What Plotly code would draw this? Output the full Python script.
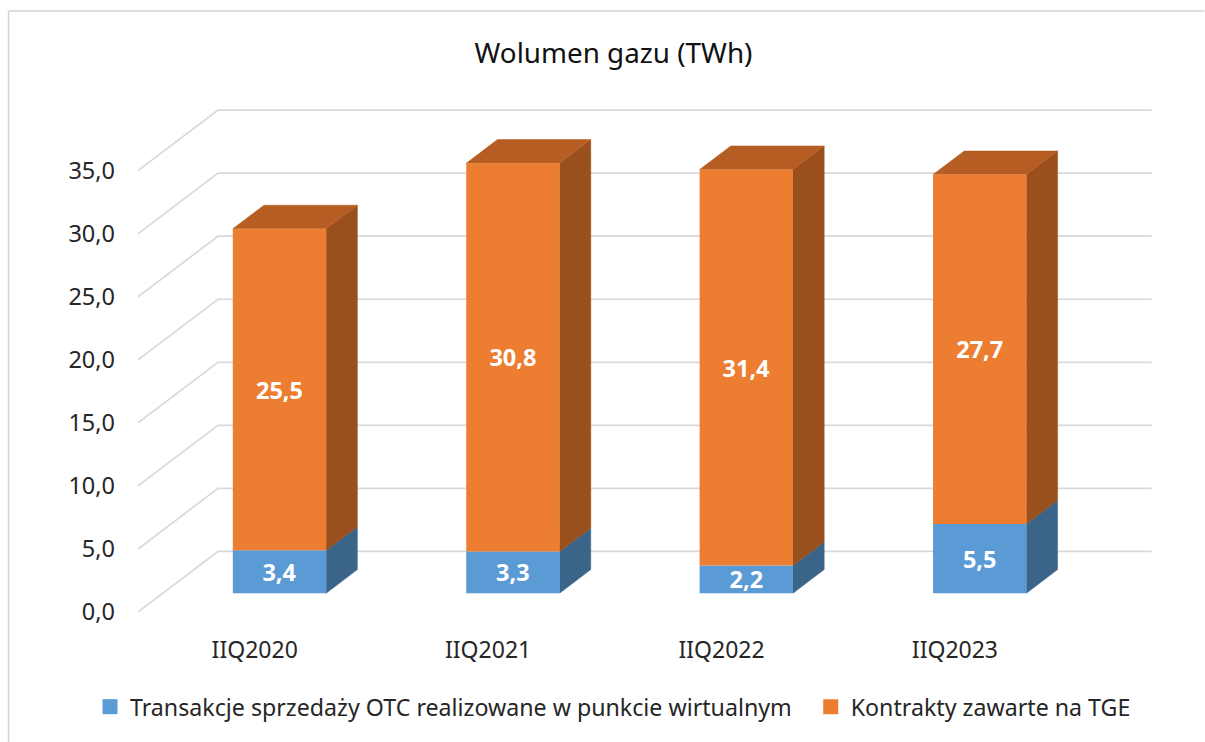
import plotly.graph_objects as go

# ---- data ----
categories = ["IIQ2020", "IIQ2021", "IIQ2022", "IIQ2023"]
otc_values = [3.4, 3.3, 2.2, 5.5]
tge_values = [25.5, 30.8, 31.4, 27.7]
otc_name = "Transakcje sprzedaży OTC realizowane w punkcie wirtualnym"
tge_name = "Kontrakty zawarte na TGE"
title_text = "Wolumen gazu (TWh)"
y_ticks = [0, 5, 10, 15, 20, 25, 30, 35]

# ---- pixel frame of the plot ----
W, H = 1205, 742
PX_PER_CAT, PX_PER_VAL = 233.5, 12.6
LEFT, ZERO_Y = 138, 612
X_RANGE = (-0.5, 3.9)
Y_RANGE = (0, 41)
plot_w = (X_RANGE[1] - X_RANGE[0]) * PX_PER_CAT
plot_h = (Y_RANGE[1] - Y_RANGE[0]) * PX_PER_VAL

# ---- oblique projection: depth 0 = front wall, depth 1 = back wall ----
BACK_DX = 80 / PX_PER_CAT
BACK_DY = 60.5 / PX_PER_VAL
NEAR, FAR = 0.31, 0.70
HALF_W = 0.2


def proj(cat, val, depth):
    return cat + depth * BACK_DX, val + depth * BACK_DY


def face(points):
    xs, ys = zip(*[proj(*p) for p in points])
    return list(xs) + [xs[0]], list(ys) + [ys[0]]


def polygon(points, color, z=1):
    xs, ys = face(points)
    return go.Scatter(x=xs, y=ys, mode="lines", fill="toself", fillcolor=color,
                      line=dict(color=color, width=0.5), showlegend=False,
                      hoverinfo="skip", cliponaxis=False, zorder=z)


BLUE, BLUE_SIDE = "#5B9BD5", "#3A6589"
ORANGE, ORANGE_SIDE, ORANGE_TOP = "#ED7D31", "#99501C", "#B55D22"
GRID = "#D9D9D9"
TEXT = "#262626"
FONT = "Noto Sans"

fig = go.Figure()

# walls: gridlines running from the front plane to the back wall
for v in y_ticks:
    x0, y0 = proj(-0.5, v, 0)
    x1, y1 = proj(-0.5, v, 1)
    x2, y2 = proj(len(categories) - 0.5, v, 1)
    fig.add_trace(go.Scatter(x=[x0, x1, x2], y=[y0, y1, y2], mode="lines",
                             line=dict(color=GRID, width=1.7), showlegend=False,
                             hoverinfo="skip", cliponaxis=False, zorder=0))

# side and top faces
for i, (a, b) in enumerate(zip(otc_values, tge_values)):
    r = i + HALF_W
    l = i - HALF_W
    fig.add_trace(polygon([(r, 0, NEAR), (r, 0, FAR), (r, a, FAR), (r, a, NEAR)], BLUE_SIDE))
    fig.add_trace(polygon([(r, a, NEAR), (r, a, FAR), (r, a + b, FAR), (r, a + b, NEAR)], ORANGE_SIDE))
    fig.add_trace(polygon([(l, a + b, NEAR), (r, a + b, NEAR), (r, a + b, FAR), (l, a + b, FAR)], ORANGE_TOP))

# front faces
front_x = [proj(i, 0, NEAR)[0] for i in range(len(categories))]
front_base = proj(0, 0, NEAR)[1]
label_font = dict(family=FONT, size=23.5, color="white", weight="bold")


def label(v):
    return f"{v:.1f}".replace(".", ",")


fig.add_trace(go.Bar(x=front_x, y=otc_values, base=[front_base] * len(otc_values),
                     width=2 * HALF_W, showlegend=False, marker=dict(color=BLUE, line_width=0),
                     text=[label(v) for v in otc_values], textposition="inside",
                     insidetextanchor="middle", textangle=0, textfont=label_font,
                     constraintext="none", cliponaxis=False, zorder=2))
fig.add_trace(go.Bar(x=front_x, y=tge_values, base=[front_base + v for v in otc_values],
                     width=2 * HALF_W, showlegend=False, marker=dict(color=ORANGE, line_width=0),
                     text=[label(v) for v in tge_values], textposition="inside",
                     insidetextanchor="middle", textangle=0, textfont=label_font,
                     constraintext="none", cliponaxis=False, zorder=2))

# legend entries with the reference's larger square swatches, each in its own legend
for name, color, leg in ((otc_name, BLUE, "legend"), (tge_name, ORANGE, "legend2")):
    fig.add_trace(go.Scatter(x=[None], y=[None], mode="markers", name=name, legend=leg,
                             marker=dict(symbol="square", size=15, color=color)))


def paper_x(px):
    return (px - LEFT) / plot_w


def paper_y(py):
    return (ZERO_Y - py) / plot_h


def legend_at(px):
    return dict(orientation="h", x=paper_x(px), xanchor="left", y=paper_y(707), yanchor="middle",
                itemwidth=30, bgcolor="rgba(0,0,0,0)", borderwidth=0,
                font=dict(family=FONT, size=23.2, color=TEXT), itemclick=False, itemdoubleclick=False)


frame = dict(color="#D4D4D4", width=1.5)
fig.update_layout(
    width=W, height=H, autosize=False,
    margin=dict(l=LEFT, r=W - LEFT - plot_w, t=ZERO_Y - plot_h, b=H - ZERO_Y, pad=0),
    paper_bgcolor="white", plot_bgcolor="white",
    barmode="overlay",
    font=dict(family=FONT, size=23, color=TEXT),
    title=dict(text=title_text, x=613.5 / W, xref="container", xanchor="center",
               y=1 - 53 / H, yref="container", yanchor="middle",
               font=dict(family=FONT, size=27.8, color="#111111")),
    xaxis=dict(range=list(X_RANGE), tickmode="array", tickvals=list(range(len(categories))),
               ticktext=categories, showgrid=False, zeroline=False, showline=False,
               ticks="", ticklabelstandoff=22, tickfont=dict(size=23, color=TEXT)),
    yaxis=dict(range=list(Y_RANGE), tickmode="array", tickvals=y_ticks,
               ticktext=[label(v) for v in y_ticks], showgrid=False, zeroline=False,
               showline=False, ticks="", ticklabelstandoff=22, tickfont=dict(size=23.5, color=TEXT)),
    legend=legend_at(90),
    legend2=legend_at(811),
    shapes=[
        dict(type="line", xref="paper", yref="paper", x0=paper_x(8.5), x1=paper_x(8.5),
             y0=paper_y(11.5), y1=paper_y(H), line=frame),
        dict(type="line", xref="paper", yref="paper", x0=paper_x(8.5), x1=paper_x(W),
             y0=paper_y(11.5), y1=paper_y(11.5), line=frame),
    ],
)

fig.write_html("out.html", config=dict(displayModeBar=False),
               post_script="document.body.style.margin='0';document.body.style.overflow='hidden';")
